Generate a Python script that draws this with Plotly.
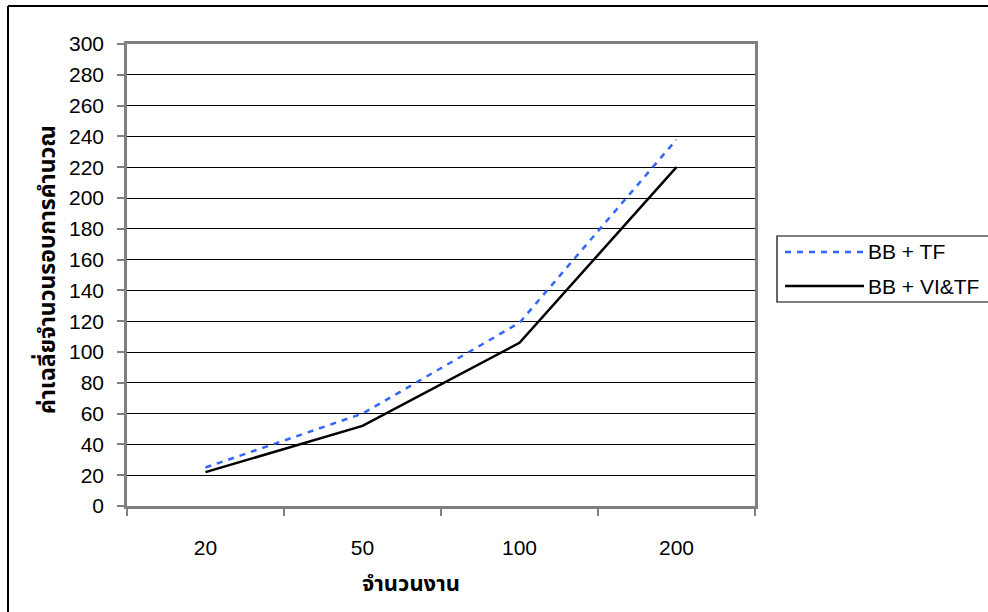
import plotly.graph_objects as go

# Number of jobs (categories) and average iteration counts per method
jobs = ["20", "50", "100", "200"]
bb_tf = [25, 60, 119, 238]
bb_vitf = [22, 52, 106, 220]
series_names = ["BB + TF", "BB + VI&TF"]
y_ticks = list(range(0, 301, 20))

W, H = 988, 612
L, R, T, B = 127, 755, 44, 506  # plot area in pixels


def px(x):
    return (x - L) / (R - L)


def py(y):
    return (B - y) / (B - T)


FONT = "Liberation Sans, Arial, sans-serif"
THAI = "Tahoma, Noto Sans Thai, Loma, Garuda, sans-serif"
GRAY = "#808080"

fig = go.Figure()
fig.add_trace(go.Scatter(
    x=jobs, y=bb_tf, mode="lines", name=series_names[0],
    line=dict(color="#3366FF", width=2.5, dash="6px,6px"),
    showlegend=False,
))
fig.add_trace(go.Scatter(
    x=jobs, y=bb_vitf, mode="lines", name=series_names[1],
    line=dict(color="#000000", width=2.5),
    showlegend=False,
))

shapes = []
# outer chart frame (left and top edges)
shapes.append(dict(type="line", xref="paper", yref="paper",
                   x0=px(8), x1=px(8), y0=py(6), y1=py(640),
                   line=dict(color="#000000", width=2)))
shapes.append(dict(type="line", xref="paper", yref="paper",
                   x0=px(8), x1=px(1000), y0=py(6), y1=py(6),
                   line=dict(color="#000000", width=2)))

# legend box with line samples
lx0, lx1, ly0, ly1 = 777, 1000, 236, 302
shapes.append(dict(type="rect", xref="paper", yref="paper",
                   x0=px(lx0), x1=px(lx1), y0=py(ly0), y1=py(ly1),
                   line=dict(color="#000000", width=1.2), fillcolor="white"))
legend_rows = [(252, fig.data[0].line), (286, fig.data[1].line)]
annotations = []
for (yy, ln), name in zip(legend_rows, series_names):
    shapes.append(dict(type="line", xref="paper", yref="paper",
                       x0=px(785), x1=px(864), y0=py(yy), y1=py(yy),
                       line=dict(color=ln.color, width=ln.width, dash=ln.dash)))
    annotations.append(dict(xref="paper", yref="paper", x=px(866), y=py(yy),
                            text=name, showarrow=False, xanchor="left",
                            yanchor="middle",
                            font=dict(family=FONT, size=21, color="#000000")))

# axis titles
annotations.append(dict(xref="paper", yref="paper", x=px(411), y=py(584),
                        text="<b>จำนวนงาน</b>", showarrow=False,
                        xanchor="center", yanchor="middle",
                        font=dict(family=THAI, size=22, color="#000000")))
annotations.append(dict(xref="paper", yref="paper", x=px(48), y=py(270),
                        text="<b>ค่าเฉลี่ยจำนวนรอบการคำนวณ</b>", showarrow=False,
                        textangle=-90, xanchor="center", yanchor="middle",
                        font=dict(family=THAI, size=23, color="#000000")))

fig.update_layout(
    width=W, height=H,
    margin=dict(l=L, r=W - R, t=T, b=H - B, pad=0),
    paper_bgcolor="white", plot_bgcolor="white",
    shapes=shapes, annotations=annotations,
    showlegend=False,
    font=dict(family=FONT, size=21, color="#000000"),
    xaxis=dict(
        type="category", categoryorder="array", categoryarray=jobs,
        range=[-0.5, 3.5], tickson="boundaries",
        ticks="outside", ticklen=7, tickwidth=1.5, tickcolor=GRAY,
        showline=True, linecolor=GRAY, linewidth=2.5, mirror=True,
        showgrid=False, zeroline=False,
        ticklabelstandoff=21,
        tickfont=dict(family=FONT, size=21, color="#000000"),
    ),
    yaxis=dict(
        range=[0, 300], tickvals=y_ticks,
        ticks="outside", ticklen=7, tickwidth=1.5, tickcolor=GRAY,
        showline=True, linecolor=GRAY, linewidth=2.5, mirror=True,
        showgrid=True, gridcolor="#000000", gridwidth=1,
        zeroline=False,
        ticklabelstandoff=9,
        tickfont=dict(family=FONT, size=21, color="#000000"),
    ),
)

fig.write_html("out.html")
